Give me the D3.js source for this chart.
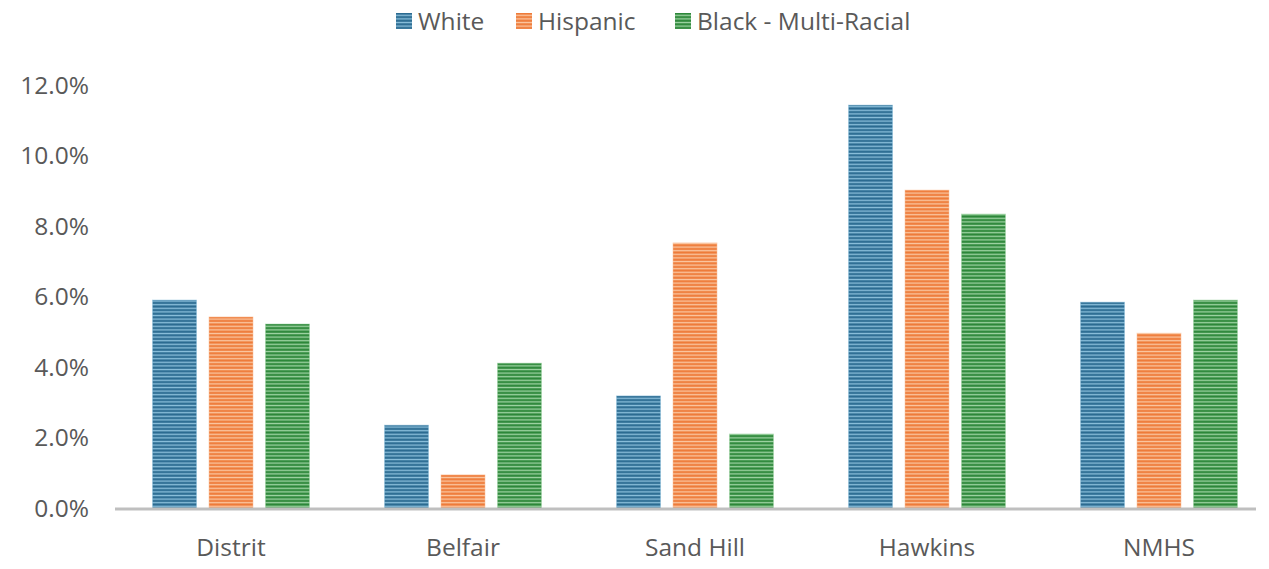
<!DOCTYPE html>
<html>
<head>
<meta charset="utf-8">
<script src="https://cdn.jsdelivr.net/npm/d3@7"></script>
<style>
  body { margin: 0; background: #fff; }
  text { font-family: "Open Sans", Lato, sans-serif; fill: #595959; }
</style>
</head>
<body>
<div id="chart"></div>
<script>
var categories = ["Distrit", "Belfair", "Sand Hill", "Hawkins", "NMHS"];
var seriesNames = ["White", "Hispanic", "Black - Multi-Racial"];
var white = [5.9, 2.35, 3.18, 11.43, 5.84];
var hispanic = [5.42, 0.94, 7.52, 9.02, 4.96];
var blackMulti = [5.22, 4.11, 2.1, 8.34, 5.9];
var yTicks = [0, 2, 4, 6, 8, 10, 12];

var colors = [
  {dark: "#2a6a90", light: "#8cc0dc"},
  {dark: "#ee7a38", light: "#fbc7a2"},
  {dark: "#2b8638", light: "#9fd4a4"}
];
var series = [white, hispanic, blackMulti];

var width = 1269, height = 569;
var svg = d3.select("#chart").append("svg")
    .attr("width", width).attr("height", height);

var defs = svg.append("defs");
colors.forEach(function(c, i) {
  var p = defs.append("pattern")
      .attr("id", "stripe" + i)
      .attr("patternUnits", "userSpaceOnUse")
      .attr("width", 8).attr("height", 3.6);
  p.append("rect").attr("width", 8).attr("height", 3.6).attr("fill", c.dark);
  p.append("rect").attr("y", 1.6).attr("width", 8).attr("height", 1.4).attr("fill", c.light);
});

var x0 = d3.scaleBand().domain(categories).range([115, 1275]);
var x1 = d3.scaleBand().domain(d3.range(3)).range([0, 157]).paddingInner(0.22);
var y = d3.scaleLinear().domain([0, 12]).range([508, 85]);

// y tick labels
svg.append("g").selectAll("text")
  .data(yTicks).enter().append("text")
  .attr("x", 89).attr("y", function(d) { return y(d); })
  .attr("dy", "0.35em")
  .attr("text-anchor", "end")
  .attr("font-size", 24.5)
  .text(function(d) { return d.toFixed(1) + "%"; });

// bars
var groups = svg.append("g").selectAll("g")
  .data(categories).enter().append("g")
  .attr("transform", function(d) { return "translate(" + (x0(d) + x0.bandwidth() / 2 - 78.5) + ",0)"; });

groups.selectAll("rect")
  .data(function(d, ci) { return series.map(function(s, si) { return {si: si, v: s[ci]}; }); })
  .enter().append("rect")
  .attr("x", function(d) { return x1(d.si); })
  .attr("width", x1.bandwidth())
  .attr("y", function(d) { return y(d.v); })
  .attr("height", function(d) { return y(0) - y(d.v); })
  .attr("fill", function(d) { return "url(#stripe" + d.si + ")"; })
  .attr("stroke", function(d) { return colors[d.si].light; })
  .attr("stroke-width", 0.8)
  .attr("stroke-opacity", 0.6);

// baseline
svg.append("line")
  .attr("x1", 115).attr("x2", 1256)
  .attr("y1", y(0) + 1).attr("y2", y(0) + 1)
  .attr("stroke", "#bfbfbf").attr("stroke-width", 3);

// category labels
svg.append("g").selectAll("text")
  .data(categories).enter().append("text")
  .attr("x", function(d) { return x0(d) + x0.bandwidth() / 2; })
  .attr("y", 547).attr("dy", "0.35em")
  .attr("text-anchor", "middle")
  .attr("font-size", 24.5)
  .text(function(d) { return d; });

// legend
var legendX = [396, 516, 675];
var leg = svg.append("g").selectAll("g")
  .data(seriesNames).enter().append("g")
  .attr("transform", function(d, i) { return "translate(" + legendX[i] + ",13)"; });
leg.append("rect").attr("width", 16).attr("height", 16)
  .attr("fill", function(d, i) { return "url(#stripe" + i + ")"; });
leg.append("text").attr("x", 22).attr("y", 8).attr("dy", "0.35em")
  .attr("font-size", 24.5)
  .text(function(d) { return d; });
</script>
</body>
</html>
